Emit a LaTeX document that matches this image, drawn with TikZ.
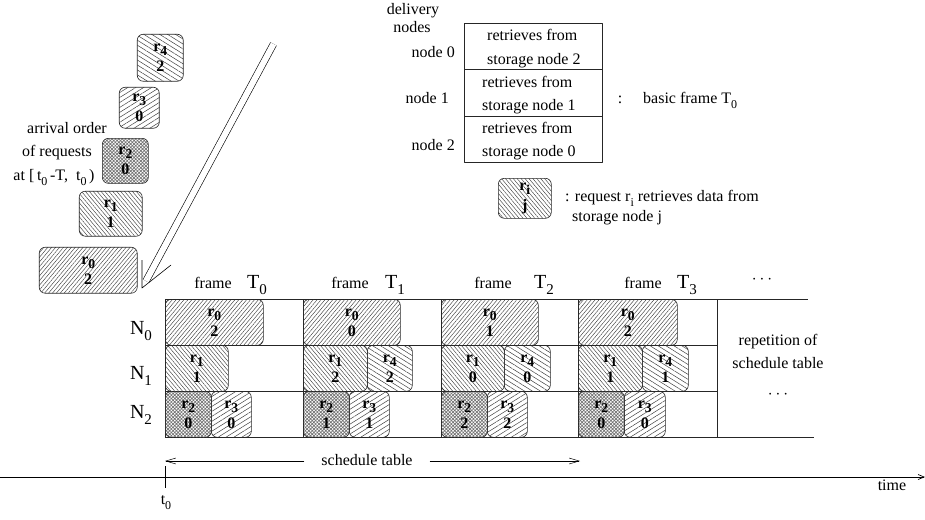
\documentclass[tikz,border=0pt]{standalone}
\usepackage{fontspec}
\setmainfont{Liberation Serif}
\usepackage{graphicx}
\usetikzlibrary{patterns.meta,arrows.meta}
\newcommand\lowsub[1]{\raisebox{-0.32em}{\scalebox{0.75}{#1}}}
\newcommand\boxsub[1]{\raisebox{-0.25em}{\scalebox{0.85}{#1}}}
\newcommand\bigTfont{\fontsize{20}{24}\selectfont}
\newcommand\reqnode[6]{\node[req,#1,minimum width=#4pt,minimum height=46pt] (#2) at (#3) {r\boxsub{#5}\\#6};}
\begin{document}
\begin{tikzpicture}[x=1pt,y=-1pt, font=\fontsize{16}{20}\selectfont, line join=round,
 req/.style={draw=black!85, line width=0.6pt, rounded corners=6pt, anchor=north west, inner sep=0pt, align=center, font=\fontsize{16}{20}\selectfont\bfseries},
 pA/.style={pattern={Lines[angle=50,distance=3pt,line width=0.45pt]}, pattern color=black!75},
 pB/.style={pattern={Lines[angle=-50,distance=3pt,line width=0.45pt]}, pattern color=black!75},
 pC/.style={pattern={Hatch[angle=45,distance=2.4pt,line width=0.7pt]}, pattern color=black!55},
 pD/.style={pattern={Lines[angle=32,distance=4.2pt,line width=0.5pt]}, pattern color=black!75},
 pE/.style={pattern={Lines[angle=-32,distance=4.2pt,line width=0.5pt]}, pattern color=black!75},
 tline/.style={line width=0.7pt, draw=black!85},
 barb/.style={-{Straight Barb[length=10pt,width=6pt]}, line width=0.5pt},
 txt/.style={anchor=base, inner sep=0pt},
 legbox/.style={draw=black!85, line width=0.7pt, anchor=north west, minimum width=138pt, inner sep=0pt},
]
\useasboundingbox (0,0) rectangle (925,519);

% ---------- left: arrival order ----------
\node[req,pE,minimum width=46pt,minimum height=47pt] (a4) at (137,34) {r\boxsub{4}\\2};
\node[req,pD,minimum width=40pt,minimum height=41pt] (a3) at (119,87) {r\boxsub{3}\\0};
\node[req,pC,minimum width=46pt,minimum height=45pt] (a2) at (102,138) {r\boxsub{2}\\0};
\node[req,pB,minimum width=63pt,minimum height=45pt] (a1) at (79,191) {r\boxsub{1}\\1};
\node[req,pA,minimum width=98pt,minimum height=46pt] (a0) at (39,247) {r\boxsub{0}\\2};

\node[txt] (arr1) at (67,133) {arrival order};
\node[txt] (arr2) at (57,156) {of requests};
\node[txt] (arr3) at (54,180) {at [\,t\lowsub{0}\,-T,\ \ t\lowsub{0}\,)};

% big hollow arrow
\coordinate (atop) at (273.5,44);
\coordinate (aend) at (146,281);
\coordinate (atip) at (142,288);
\coordinate (aarmL) at (142,260);
\coordinate (aarmR) at (171,265);
\draw[line width=0.6pt, double distance=6pt] (atop) -- (aend);
\draw[line width=0.6pt] (aarmL) -- (atip) -- (aarmR);

% ---------- legend ----------
\node[txt] (dl1) at (413,15) {delivery};
\node[txt] (dl2) at (412,33) {nodes};
\node[txt, anchor=base east] (nd0) at (455,57) {node 0};
\node[txt, anchor=base east] (nd1) at (449,103) {node 1};
\node[txt, anchor=base east] (nd2) at (455,150) {node 2};

\node[legbox, minimum height=46pt] (lg0) at (464,23) {};
\node[legbox, minimum height=47pt] (lg1) at (464,69) {};
\node[legbox, minimum height=46pt] (lg2) at (464,116) {};
\node[txt, anchor=base west] (lg0a) at (487,41) {retrieves from};
\node[txt, anchor=base west] (lg0b) at (487,64) {storage node 2};
\node[txt, anchor=base west] (lg1a) at (482,87) {retrieves from};
\node[txt, anchor=base west] (lg1b) at (482,110) {storage node 1};
\node[txt, anchor=base west] (lg2a) at (482,133) {retrieves from};
\node[txt, anchor=base west] (lg2b) at (482,156) {storage node 0};

\node[txt] (col1) at (620,103) {:};
\node[txt, anchor=base west] (bf) at (643,103) {basic frame T\lowsub{0}};

\node[req,pB,minimum width=53pt,minimum height=40pt] (lg) at (498,178) {r\boxsub{i}\\j};
\node[txt, anchor=base west] (lgt1) at (565,201) {: request r\lowsub{i} retrieves data from};
\node[txt, anchor=base west] (lgt2) at (572,221) {storage node j};

% ---------- schedule table ----------
\draw[tline] (165,299) -- (808,299);
\draw[tline] (165,345) -- (717,345);
\draw[tline] (165,391) -- (717,391);
\draw[tline] (165,437) -- (814,437);
\foreach \xx in {165,303,441,578,717} \draw[tline] (\xx,299) -- (\xx,437);

\node[txt] (fr0) at (213,288) {frame};
\node[txt] (T0) at (257,288) {\bigTfont T\lowsub{0}};
\node[txt] (fr1) at (350,288) {frame};
\node[txt] (T1) at (395,288) {\bigTfont T\lowsub{1}};
\node[txt] (fr2) at (493,288) {frame};
\node[txt] (T2) at (544,288) {\bigTfont T\lowsub{2}};
\node[txt] (fr3) at (643,288) {frame};
\node[txt] (T3) at (687,288) {\bigTfont T\lowsub{3}};
\node (dots1) at (762,280) {$\cdots$};

\node[txt] (N0) at (141,334) {\bigTfont N\lowsub{0}};
\node[txt] (N1) at (141,379) {\bigTfont N\lowsub{1}};
\node[txt] (N2) at (141,418) {\bigTfont N\lowsub{2}};

% row N0
\reqnode{pA}{b00}{165,299}{98}{0}{2}
\reqnode{pA}{b10}{303,299}{97}{0}{0}
\reqnode{pA}{b20}{441,299}{97}{0}{1}
\reqnode{pA}{b30}{578,299}{99}{0}{2}
% row N1
\reqnode{pB}{b01}{165,345}{63}{1}{1}
\reqnode{pB}{b11}{303,345}{64}{1}{2}
\reqnode{pE}{b14}{367,345}{45}{4}{2}
\reqnode{pB}{b21}{441,345}{63}{1}{0}
\reqnode{pE}{b24}{504,345}{46}{4}{0}
\reqnode{pB}{b31}{578,345}{64}{1}{1}
\reqnode{pE}{b34}{642,345}{46}{4}{1}
% row N2
\reqnode{pC}{b02}{165,391}{46}{2}{0}
\reqnode{pD}{b03}{211,391}{40}{3}{0}
\reqnode{pC}{b12}{303,391}{46}{2}{1}
\reqnode{pD}{b13}{349,391}{40}{3}{1}
\reqnode{pC}{b22}{441,391}{46}{2}{2}
\reqnode{pD}{b23}{487,391}{40}{3}{2}
\reqnode{pC}{b32}{578,391}{46}{2}{0}
\reqnode{pD}{b33}{624,391}{41}{3}{0}

\node[txt] (rep1) at (778,345) {repetition of};
\node[txt] (rep2) at (778,368) {schedule table};
\node (dots2) at (778,395) {$\cdots$};

% schedule table arrow
\node[inner xsep=17pt] (sched) at (367,460) {schedule table};
\coordinate (stl) at (165,461);
\coordinate (str) at (580,461);
\draw[barb] (sched.west |- stl) -- (stl);
\draw[barb] (sched.east |- str) -- (str);

% time axis
\coordinate (tax0) at (0,477);
\coordinate (tax1) at (925,477);
\draw[line width=0.7pt, -{Straight Barb[length=6pt,width=5pt]}] (tax0) -- (tax1);
\coordinate (tk0) at (165,466);
\coordinate (tk1) at (165,488);
\draw[line width=0.6pt] (tk0) -- (tk1);
\node[txt] (t0) at (166,504) {t\lowsub{0}};
\node[txt] (time) at (892,490) {time};
\end{tikzpicture}
\end{document}
